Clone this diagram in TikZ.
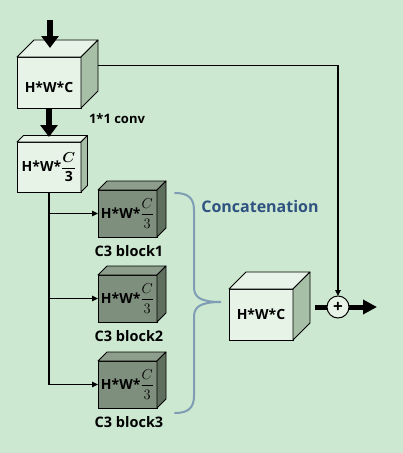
\documentclass[tikz,border=0pt]{standalone}
\usepackage{amsmath}
\usepackage{fontspec}
\setmainfont{Open Sans}
\usetikzlibrary{arrows.meta}

\definecolor{bggreen}{HTML}{CDE8D0}
\definecolor{lightfront}{HTML}{E6F3E6}
\definecolor{lightside}{HTML}{A7BEA7}
\definecolor{darkfront}{HTML}{7E8F7D}
\definecolor{darktop}{HTML}{8E9E8C}
\definecolor{darkside}{HTML}{5F6F5E}
\definecolor{braceblue}{HTML}{7F9EB6}
\definecolor{concatblue}{HTML}{2F5381}

% top and side faces of a box whose front face is node #1
\newcommand{\boxfaces}[4]{%
  \path (#1.north east) ++(#2,-#2) coordinate (#1-back);
  \filldraw[fill=#3,line width=0.8pt,line join=round] (#1.north west) -- ++(#2,-#2) -- (#1-back) -- (#1.north east) -- cycle;
  \filldraw[fill=#4,line width=0.8pt,line join=round] (#1.south east) -- ++(#2,-#2) -- (#1-back) -- (#1.north east) -- cycle;
}

\begin{document}
\begin{tikzpicture}[x=1pt,y=-1pt,
  face/.style={draw=black,line width=0.8pt,outer sep=0pt,inner sep=0pt},
  lightbox/.style={face,fill=lightfront,minimum width=64pt,minimum height=51pt,font=\bfseries\fontsize{14}{16}\selectfont},
  darkbox/.style={face,fill=darkfront,minimum width=59pt,minimum height=47pt,font=\bfseries\fontsize{14}{16}\selectfont},
  caption/.style={font=\bfseries\fontsize{14.5}{16}\selectfont},
  wire/.style={line width=1.4pt},
  wirearrow/.style={wire,-{Triangle[length=6pt,width=5.5pt]}},
  fatarrow/.style={line width=5.5pt,-{Triangle[length=12pt,width=17pt]}},
  concatbrace/.style={draw=braceblue,line width=2pt,line cap=round},
]
\useasboundingbox[fill=bggreen] (0,0) rectangle (403,453);

% input box and 1*1 conv
\node[lightbox] (inbox) at (49,82.5) {\raisebox{-4.5pt}[\height][\depth]{H*W*C}};
\boxfaces{inbox}{17}{lightfront}{lightside}
\node[lightbox,minimum height=50pt] (splitbox) at (49,167) {H*W*$\dfrac{\boldsymbol{C}}{\mathbf{3}}$};
\boxfaces{splitbox}{6.5}{lightfront}{lightside}
\node[caption,font=\bfseries\fontsize{13}{15}\selectfont] (convlab) at (117,119) {1*1 conv};

\coordinate (inp) at (50,20);
\coordinate (intop) at (50,48);
\draw[fatarrow] (inp) -- (intop);
\draw[fatarrow] (inbox.south) -- ([yshift=5pt]splitbox.north);

% C3 blocks
\foreach \i/\y in {1/213.5,2/298.5,3/384.5}{
  \node[darkbox] (blk\i) at (127.5,\y) {H*W*$\dfrac{C}{3}$};
  \boxfaces{blk\i}{9}{darktop}{darkside}
  \node[caption] (blklab\i) at (129,\y+38) {C3 block\i};
  \draw[wirearrow] (splitbox.south |- blk\i.west) -- (blk\i.west);
}
\draw[wire] (splitbox.south) -- (splitbox.south |- blk3.west);

% concatenation
\draw[concatbrace] (175,193) .. controls (188,193) and (194,198) .. (194,210) -- (194,287)
  .. controls (194,297) and (200,302) .. (221,302) coordinate (bracetip)
  .. controls (200,302) and (194,307) .. (194,317) -- (194,396)
  .. controls (194,408) and (188,413) .. (175,413);
\node[font=\bfseries\fontsize{16}{18}\selectfont,text=concatblue] (concatlab) at (260,206) {Concatenation};

\node[lightbox] (outbox) at (261,314.5) {H*W*C};
\boxfaces{outbox}{17}{lightfront}{lightside}

% residual sum
\node[circle,draw,line width=1pt,fill=lightfront,minimum size=22pt,inner sep=0pt,outer sep=0pt,font=\bfseries\fontsize{17}{17}\selectfont] (plus) at (338,307) {+};
\path (inbox.east) ++(17,-17) coordinate (skip);
\draw[wirearrow] (skip) -- (skip -| plus) -- (plus.north);
\coordinate (sumin) at (315,307);
\coordinate (out) at (377,307);
\draw[line width=5pt] (sumin) -- (plus.west);
\draw[line width=5pt,-{Triangle[length=14pt,width=14pt]}] (plus.east) -- (out);
\end{tikzpicture}
\end{document}
